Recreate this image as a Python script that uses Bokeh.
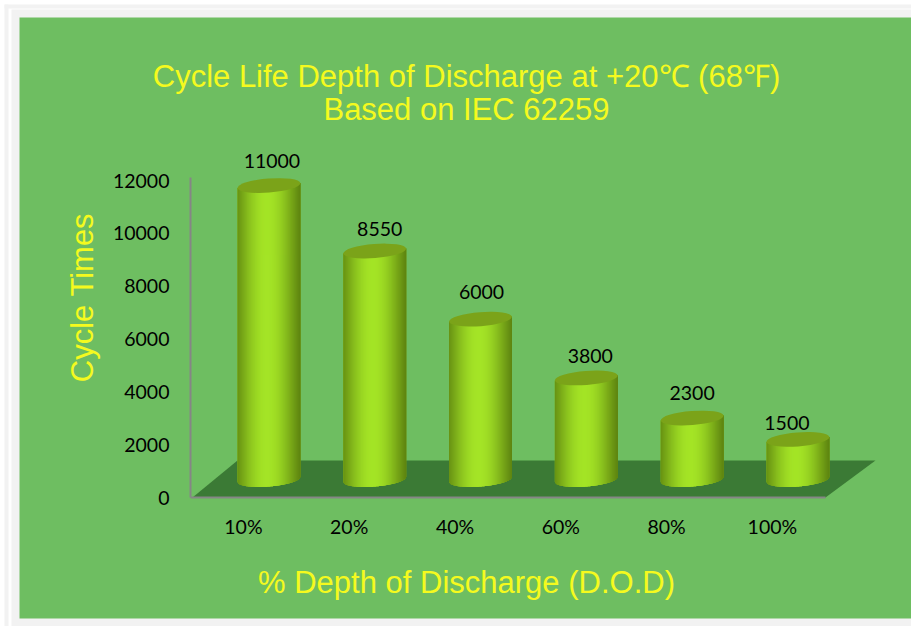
import math
from bokeh.plotting import figure
from bokeh.models import Label, BoxAnnotation, FixedTicker, ColumnDataSource, Range1d
from bokeh.core.properties import value
from bokeh.embed import file_html
from bokeh.resources import INLINE

categories = ["10%", "20%", "40%", "60%", "80%", "100%"]
cycles = [11000, 8550, 6000, 3800, 2300, 1500]
y_ticks = [0, 2000, 4000, 6000, 8000, 10000, 12000]
title_lines = ["Cycle Life Depth of Discharge at +20\u2103 (68\u2109)", "Based on IEC 62259"]
x_title = "% Depth of Discharge (D.O.D)"
y_title = "Cycle Times"
label_dx = [3, 5, 1, 4, 0, -11]
label_dy = [25, 22, 27, 22, 25, 16]

W, H = 911, 626
GREEN = "#6EBE61"
PALE = "#F2F2F2"
YELLOW = "#F5FA1E"
PXX = 105.8            # px per category
PXY = 317 / 12000      # px per cycle
AXIS_X, AXIS_Y = 190, 497
depth_dx = 25.5 / PXX   # bar shift into the depth of the 3D scene
base = 18 / PXY         # bar foot above the front edge
stretch = 1.0116
semi_a, semi_b, tilt = 31.5, 7.0, math.radians(4.5)

def X(px):
    return (px - AXIS_X) / PXX

def Y(py):
    return (AXIS_Y - py) / PXY

p = figure(width=W, height=H, output_backend="svg", toolbar_location=None,
           x_range=Range1d(X(0), X(W)), y_range=Range1d(Y(H), Y(0)),
           min_border_left=0, min_border_right=0, min_border_top=0, min_border_bottom=0,
           background_fill_color="white", border_fill_color="white", outline_line_color=None)
p.grid.visible = False

# page-like frame and the green panel
for (l, r, t, b, c) in [(4, W, 4, 8, PALE), (4, 8, 4, H, PALE), (11, W, 9, H, PALE), (19, W, 17, 618, GREEN)]:
    p.add_layout(BoxAnnotation(left=X(l), right=X(r), top=Y(t), bottom=Y(b), fill_color=c,
                               fill_alpha=1, line_color=None, level="underlay"))

FONT = "Lato"
for ax in (p.xaxis[0], p.yaxis[0]):
    ax.fixed_location = 0
    ax.axis_line_color = "#868686"
    ax.axis_line_width = 2
    ax.major_tick_line_color = None
    ax.minor_tick_line_color = None
    ax.major_label_text_font = FONT
    ax.major_label_text_font_size = "19.5px"
    ax.major_label_text_color = "black"
p.yaxis[0].ticker = FixedTicker(ticks=y_ticks)
p.yaxis[0].bounds = (0, 12120)
p.yaxis[0].major_label_standoff = 15
p.xaxis[0].ticker = FixedTicker(ticks=[i + 0.5 for i in range(len(categories))])
p.xaxis[0].major_label_overrides = {i + 0.5: c for i, c in enumerate(categories)}
p.xaxis[0].bounds = (0, len(categories))
p.xaxis[0].major_label_standoff = 11

# the floor of the 3D scene
depth_y = 37 / PXY
p.patch([X(192), X(237), X(875), X(825)], [0, depth_y, depth_y, 0],
        fill_color="#3B7A35", fill_alpha=1, line_color=None)

def shade(t):
    # t from 0 (left edge) to 1 (right edge) of a cylinder
    s = 1 - abs(t - 0.47) / 0.53
    s = math.sin(s * math.pi / 2) ** 1.15
    dark, light = (0x5E, 0x85, 0x10), (0xA4, 0xE4, 0x26)
    return "#%02X%02X%02X" % tuple(round(d + (l - d) * s) for d, l in zip(dark, light))

def lower_edge(dx):
    # vertical offset in px of the lower rim of a tilted ellipse
    u = dx / semi_a
    return semi_b * math.sqrt(max(0, 1 - u * u))

def strip(cx, top, d0, d1):
    # one vertical slice of a cylinder, between two px offsets from its centre
    steps = [d0 + (d1 - d0) * j / 4 for j in range(5)]
    low = [base + (d * math.tan(tilt) - lower_edge(d)) / PXY for d in steps]
    high = [top + d * math.tan(tilt) / PXY for d in reversed(steps)]
    return ([cx + d / PXX for d in steps] + [cx + d / PXX for d in reversed(steps)], low + high)

xs, ys, cols = [], [], []
N = 63
for i, v in enumerate(cycles):
    cx = i + 0.5 + depth_dx
    top = base + v * stretch
    # solid silhouette first, so no slice edge lets the floor show through
    steps = [-semi_a + 2 * semi_a * j / 40 for j in range(41)]
    sx = [cx + d / PXX for d in steps] + [cx + semi_a / PXX, cx - semi_a / PXX]
    sy = [base + (d * math.tan(tilt) - lower_edge(d)) / PXY for d in steps] + \
         [top + semi_a * math.tan(tilt) / PXY, top - semi_a * math.tan(tilt) / PXY]
    xs.append(sx); ys.append(sy); cols.append("#8CC81E")
    for k in range(N):
        d0 = -semi_a + 2 * semi_a * k / N
        d1 = min(d0 + 3.0, semi_a)
        a, b = strip(cx, top, d0, d1)
        xs.append(a); ys.append(b); cols.append(shade((k + 0.5) / N))
p.patches(xs, ys, fill_color=cols, fill_alpha=1, line_color=None)

tops = ColumnDataSource(dict(
    x=[i + 0.5 + depth_dx for i in range(len(cycles))],
    y=[base + v * stretch for v in cycles],
    t=[str(v) for v in cycles],
    dx=label_dx,
    dy=[-d for d in label_dy],
))
p.ellipse("x", "y", source=tops, width=2 * semi_a, height=2 * semi_b, width_units="screen",
          height_units="screen", angle=tilt, fill_color="#7BA319", fill_alpha=1, line_color=None)
p.text("x", "y", text="t", source=tops, x_offset="dx", y_offset="dy", text_align="center",
       text_baseline="middle", text_font=value(FONT), text_font_size="19.5px", text_color="black")

def label(text, cx, cy, size, angle=0.0):
    p.add_layout(Label(x=X(cx), y=Y(cy), text=text,
                       text_align="center", text_baseline="middle", angle=angle,
                       text_font="Liberation Sans", text_font_size=size, text_color=YELLOW))

label(title_lines[0], 466, 76, "31px")
label(title_lines[1], 466, 109, "31px")
label(x_title, 466, 582, "31px")
label(y_title, 82, 297, "31px", angle=math.pi / 2)

open("out.html", "w").write(file_html(p, INLINE))
